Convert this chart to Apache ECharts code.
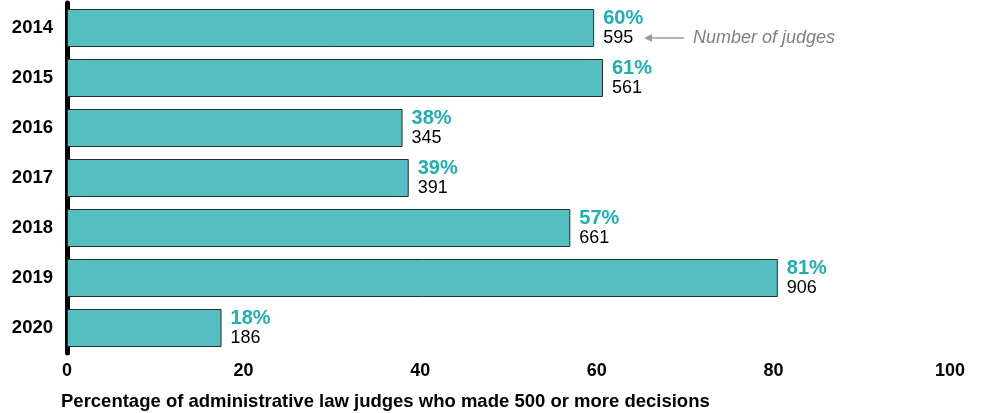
<!DOCTYPE html>
<html>
<head>
<meta charset="utf-8">
<script src="https://cdn.jsdelivr.net/npm/echarts@6/dist/echarts.min.js"></script>
<style>
  html, body { margin: 0; padding: 0; background: #fff; }
  #main { width: 982px; height: 413px; }
</style>
</head>
<body>
<div id="main"></div>
<script>
// data
var years = ['2014', '2015', '2016', '2017', '2018', '2019', '2020'];
var shares = [59.7, 60.7, 38.0, 38.7, 57.0, 80.5, 17.5];
var pctLabels = ['60%', '61%', '38%', '39%', '57%', '81%', '18%'];
var judges = [595, 561, 345, 391, 661, 906, 186];
var xTicks = [0, 20, 40, 60, 80, 100];

var chart = echarts.init(document.getElementById('main'));
var font = 'Liberation Sans, Arial, sans-serif';

var option = {
    textStyle: { fontFamily: font },
    animation: false,
    title: {
        text: 'Percentage of administrative law judges who made 500 or more decisions',
        left: 61,
        top: 392,
        padding: 0,
        textStyle: { fontSize: 18.5, fontWeight: 'bold', color: '#000', fontFamily: font, lineHeight: 20 }
    },
    grid: { left: 67, right: 32, top: 3, bottom: 60 },
    xAxis: {
        type: 'value',
        min: xTicks[0],
        max: xTicks[xTicks.length - 1],
        interval: 20,
        splitLine: { show: false },
        axisLine: { show: false },
        axisTick: { show: false },
        axisLabel: { margin: 9, fontSize: 18, fontWeight: 'bold', color: '#000', fontFamily: font }
    },
    yAxis: {
        type: 'category',
        inverse: true,
        data: years,
        axisLine: { show: true, lineStyle: { color: '#000', width: 5 } },
        axisTick: { show: false },
        axisLabel: { margin: 14, fontSize: 18.5, fontWeight: 'bold', color: '#000', fontFamily: font }
    },
    series: [{
        type: 'bar',
        data: shares,
        barCategoryGap: '24%',
        itemStyle: { color: '#55BEC0', borderColor: '#2b2b2b', borderWidth: 1 },
        label: {
            show: true,
            position: 'right',
            distance: 9,
            formatter: function (p) {
                return '{p|' + pctLabels[p.dataIndex] + '}\n{n|' + judges[p.dataIndex] + '}';
            },
            rich: {
                p: { fontSize: 20, fontWeight: 'bold', color: '#1DAFB2', fontFamily: font, lineHeight: 20 },
                n: { fontSize: 18, color: '#000', fontFamily: font, lineHeight: 20 }
            }
        }
    }],
    graphic: [
        {
            type: 'line',
            shape: { x1: 684, y1: 38, x2: 649, y2: 38 },
            style: { stroke: '#9a9a9a', lineWidth: 1.5 }
        },
        {
            type: 'polygon',
            shape: { points: [[644, 38], [652, 34], [652, 42]] },
            style: { fill: '#9a9a9a' }
        },
        {
            type: 'text',
            left: 693,
            top: 29,
            style: { text: 'Number of judges', font: 'italic 18px ' + font, fill: '#7f7f7f' }
        }
    ]
};

option && chart.setOption(option);
</script>
</body>
</html>
